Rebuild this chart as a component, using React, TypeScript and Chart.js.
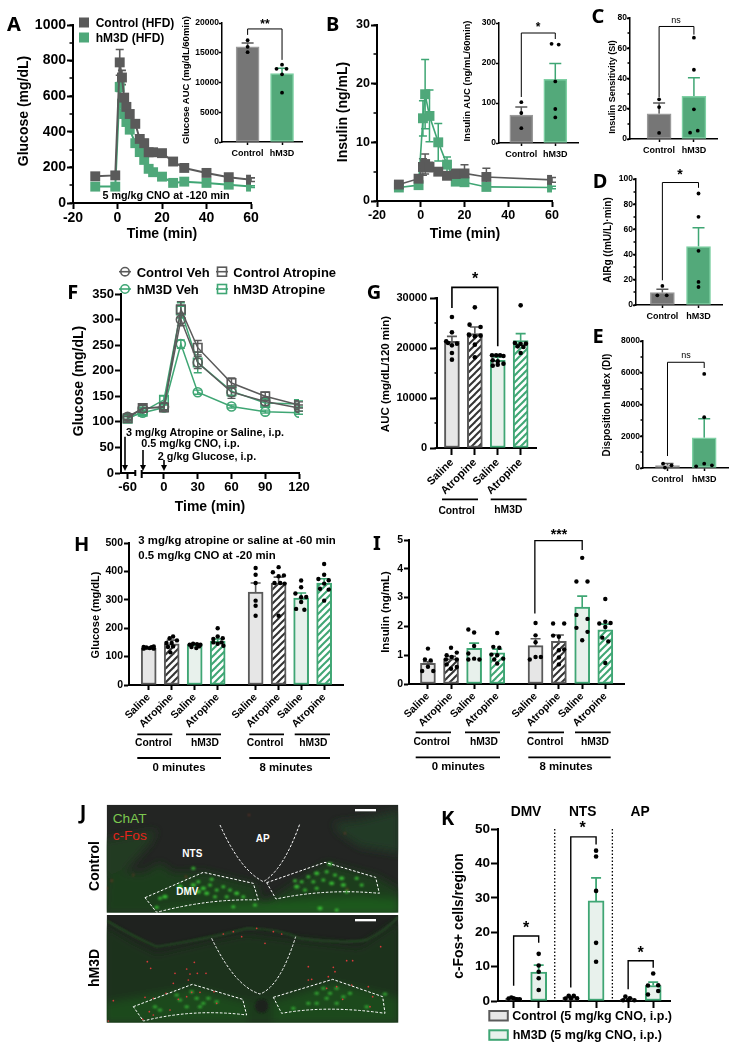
import React, { useEffect, useRef } from 'react';
import { Chart, registerables } from 'chart.js';
Chart.register(...registerables);

const SANS = '"Liberation Sans", Arial, sans-serif';
const GREY = '#5a5a5a';
const GREEN = '#3fa674';
const DARKBAR = '#767676';
const DARKEDGE = '#9a9a9a';
const GREENBAR = '#53a97a';
const GREENEDGE = '#7fd0a4';
const LIGHTGREY = '#e6e6e6';
const LIGHTGREEN = '#e8f1ec';

// ---------- A ----------
const aTimes = [-10, -1, 1, 2, 3, 4, 5.5, 8, 10, 12, 14, 16, 20, 25, 30, 40, 50, 60];
const aControl = [150, 155, 790, 705, 592, 540, 500, 445, 360, 336, 285, 285, 280, 233, 197, 169, 145, 131];
const aControlSem = [20, 20, 72, 40, 20, 15, 15, 20, 20, 20, 20, 15, 15, 15, 15, 15, 15, 10];
const aHm3d = [92, 92, 652, 558, 500, 455, 412, 336, 286, 242, 192, 173, 148, 113, 120, 113, 103, 92];
const aHm3dSem = [10, 10, 25, 30, 20, 15, 15, 15, 15, 15, 15, 10, 10, 8, 8, 8, 8, 5];
const groupLabels = ['Control', 'hM3D'];
const aAuc = [16000, 11480];
const aAucSem = [650, 900];
const aDotX = [0, 0, 0, 1, 0.84, 1.13, 1, 1];
const aDotY = [17100, 16000, 15100, 13000, 12300, 12300, 11370, 8290];

// ---------- B ----------
const bTimes = [-10, -1, 1, 2, 4, 8, 12, 16, 20, 30, 60];
const bControl = [2.8, 3.8, 5.8, 6.3, 5.8, 5, 4.3, 4.6, 4.7, 4.1, 3.6];
const bControlSem = [0.4, 0.5, 1.4, 1.7, 0.8, 0.6, 0.5, 0.8, 1.5, 1.5, 0.4];
const bHm3d = [2.3, 2.7, 14.1, 18.2, 14.5, 10, 6.2, 3.3, 3.2, 2.4, 2.3];
const bHm3dSem = [0.2, 0.3, 3, 5.9, 4.4, 3.2, 1.3, 0.3, 0.3, 0.2, 0.2];
const bAuc = [70, 159];
const bAucSem = [20, 40];
const bDotX = [0, 0, 0, 0.89, 1.1, 1, 1, 1];
const bDotY = [102, 75, 37, 248, 246, 154, 85, 64];

// ---------- C D E ----------
const cValues = [16.7, 28.2];
const cSem = [7.1, 12.3];
const cDotX = [0, 0, 0, 1, 1, 1, 0.89, 1.11];
const cDotY = [26.2, 21.1, 4, 67, 45.8, 19.6, 4.2, 5.5];
const dValues = [9.8, 46.4];
const dSem = [2.7, 15];
const dDotX = [0, -0.14, 0.12, 1, 1, 1, 1, 1];
const dDotY = [15.1, 7.7, 7.7, 88.5, 70, 43, 18.3, 14.3];
const eValues = [157, 1905];
const eSem = [133, 1195];
const eDotX = [-0.12, 0.11, -0.07, 1, 1, 1, 0.78, 1.21];
const eDotY = [272, 170, 26, 5926, 3200, 272, 105, 167];

// ---------- F ----------
const fAxisPositions = [-32.3, -18.9, 0, 15, 30, 60, 90, 120];
const fTickPositions = [-32.3, 0, 30, 60, 90, 120];
const fTickLabels = ['-60', '0', '30', '60', '90', '120'];
const fControlVeh = [110, 126, 130, 300, 216, 158, 140, 127];
const fControlVehSem = [5, 6, 6, 12, 12, 12, 8, 6];
const fControlAtr = [107, 127, 128, 320, 245, 176, 150, 133];
const fControlAtrSem = [4, 6, 8, 15, 14, 10, 8, 6];
const fHm3dVeh = [108, 118, 128, 252, 158, 130, 120, 118];
const fHm3dVehSem = [4, 4, 5, 8, 4, 3, 3, 3];
const fHm3dAtr = [106, 120, 143, 318, 216, 160, 137, 135];
const fHm3dAtrSem = [4, 6, 8, 15, 20, 10, 6, 6];

// ---------- G ----------
const treatLabels = ['Saline', 'Atropine', 'Saline', 'Atropine'];
const gValues = [21333, 22870, 17530, 21470];
const gSem = [1000, 1330, 670, 1400];
const gDotX = [0, 0, -0.25, 0.22, 0, 0, 0, -0.17, 1, 0.77, 1.25, 0.74, 1.25, 1, 1, 1, 1.75, 1.93, 2.1, 2.25, 1.78, 2, 2.25, 1.78, 2, 3, 2.75, 3, 3.23, 2.87, 3.12, 3];
const gDotY = [26200, 23130, 21330, 20870, 20530, 19000, 17670, 21000, 28130, 24670, 24200, 22670, 22470, 22330, 20670, 18130, 18530, 18530, 18530, 18400, 17530, 17330, 16870, 16470, 16670, 28530, 21000, 20800, 20870, 20330, 20200, 19000];

// ---------- H ----------
const hPositions = [0, 1, 2, 3, 4.65, 5.65, 6.63, 7.63];
const eightLabels = ['Saline', 'Atropine', 'Saline', 'Atropine', 'Saline', 'Atropine', 'Saline', 'Atropine'];
const hValues = [130, 145, 142, 154, 327, 359, 306, 359];
const hSem = [2, 13, 3, 8, 32, 21, 18, 15];
const hDotX = [-0.22, -0.1, 0.04, 0.22, -0.22, 0.12, 0.22, 1.06, 0.91, 0.77, 1.23, 1, 0.84, 1.06, 0.94, 1.78, 1.93, 2.1, 2.25, 1.86, 2.07, 2.19, 3, 3, 2.81, 3.22, 2.81, 3, 3.17, 3.25, 4.65, 4.65, 4.65, 4.65, 4.65, 4.65, 5.65, 5.4, 5.65, 5.88, 5.47, 5.72, 5.91, 5.65, 6.63, 6.63, 6.38, 6.63, 6.85, 6.63, 6.41, 6.77, 7.63, 7.63, 7.38, 7.83, 7.63, 7.45, 7.83, 7.63];
const hDotY = [134, 132, 130, 136, 128, 133, 128, 171, 165, 148, 157, 148, 134, 136, 115, 142, 145, 144, 142, 134, 130, 136, 200, 171, 162, 165, 150, 145, 150, 138, 412, 388, 359, 297, 279, 244, 415, 397, 383, 386, 359, 359, 357, 244, 368, 344, 322, 309, 310, 292, 268, 265, 426, 388, 373, 369, 357, 339, 336, 297];

// ---------- I ----------
const iPositions = [0, 1, 2, 3, 4.66, 5.67, 6.68, 7.68];
const iValues = [0.72, 0.88, 1.24, 1.08, 1.33, 1.48, 2.67, 1.88];
const iSem = [0.05, 0.08, 0.18, 0.13, 0.24, 0.22, 0.38, 0.2];
const iDotX = [0, -0.13, 0.12, 0, -0.25, 0.23, 1, 1.25, 0.81, 1.03, 0.78, 1.25, 0.81, 1, 1.25, 1.75, 2, 2, 1.75, 1.75, 2, 2.23, 3, 2.83, 3.09, 2.75, 3, 3.26, 2.87, 3, 4.66, 4.66, 4.66, 4.41, 4.66, 4.89, 5.42, 5.9, 5.42, 5.67, 5.67, 5.9, 5.67, 5.67, 6.68, 6.43, 6.91, 6.43, 6.91, 6.43, 6.91, 6.68, 7.68, 7.42, 7.68, 7.91, 7.68, 7.55, 7.81, 7.68];
const iDotY = [1.23, 0.85, 0.82, 0.6, 0.45, 0.45, 1.26, 1.09, 1.0, 0.94, 0.85, 0.85, 0.68, 0.53, 0.59, 1.89, 1.79, 1.32, 1.06, 0.85, 0.88, 0.85, 1.77, 1.29, 1.26, 1.02, 1.0, 0.88, 0.85, 0.71, 2.12, 1.69, 1.45, 0.85, 0.94, 0.94, 2.1, 2.1, 1.68, 1.64, 1.17, 1.2, 0.92, 0.68, 4.38, 3.56, 3.56, 2.4, 2.26, 1.95, 1.81, 1.52, 2.95, 2.1, 2.16, 2.12, 1.98, 1.61, 1.48, 0.73];

// ---------- K ----------
const kPositions = [0, 1, 2.28, 3.29, 4.57, 5.57];
const kValues = [0.8, 8.4, 1.1, 29.1, 0.5, 4.5];
const kSem = [0.1, 2, 0.2, 6.7, 0.2, 1];
const kDotX = [-0.2, -0.09, 0, 0.11, 0.24, 1, 1, 1, 1, 1, 2.07, 2.2, 2.4, 2.53, 2.29, 3.29, 3.29, 3.29, 3.29, 3.29, 4.37, 4.46, 4.64, 4.82, 4.57, 5.57, 5.36, 5.77, 5.36, 5.77];
const kDotY = [0.7, 1, 0.8, 0.5, 0.5, 13.7, 10.3, 8.5, 6.6, 3.2, 0.7, 1.5, 1.5, 0.8, 0.8, 43.7, 42, 32, 16.9, 11.4, 0.2, 1.3, 0.8, 0.2, 0.2, 8, 4.5, 4.6, 1.9, 2.9];

type Plot = { l: number; t: number; r: number; b: number };
type Bracket = { x1: number; x2: number; top: number; y1: number; y2: number };
type Err = { xs: number[]; ys: number[]; sems: number[]; colors: string | string[]; cap: number; both: boolean; width: number };
type Spec = {
  errors?: Err[];
  brackets?: Bracket[];
  bracketWidth?: number;
  minor?: number;
  minorLen?: number;
  dotted?: number[];
  axisBreak?: [number, number];
};

function marksPlugin(spec: Spec) {
  return {
    id: 'marks',
    beforeDatasetsDraw(chart: any) {
      const { ctx, scales } = chart;
      const { x, y } = scales;
      ctx.save();
      (spec.errors || []).forEach((e) => {
        ctx.lineWidth = e.width;
        e.xs.forEach((xv, i) => {
          ctx.strokeStyle = Array.isArray(e.colors) ? e.colors[i] : e.colors;
          const px = x.getPixelForValue(xv);
          const hi = y.getPixelForValue(e.ys[i] + e.sems[i]);
          const lo = e.both ? y.getPixelForValue(e.ys[i] - e.sems[i]) : y.getPixelForValue(e.ys[i]);
          ctx.beginPath();
          ctx.moveTo(px, lo);
          ctx.lineTo(px, hi);
          ctx.moveTo(px - e.cap, hi);
          ctx.lineTo(px + e.cap, hi);
          if (e.both) {
            ctx.moveTo(px - e.cap, lo);
            ctx.lineTo(px + e.cap, lo);
          }
          ctx.stroke();
        });
      });
      ctx.restore();
    },
    afterDraw(chart: any) {
      const { ctx, scales, chartArea } = chart;
      const { x, y } = scales;
      ctx.save();
      ctx.strokeStyle = '#000';
      if (spec.minor) {
        ctx.lineWidth = 1.5;
        const n = Math.round((y.max - y.min) / spec.minor);
        for (let i = 0; i <= n; i++) {
          const py = Math.round(y.getPixelForValue(y.min + i * spec.minor));
          ctx.beginPath();
          ctx.moveTo(chartArea.left, py);
          ctx.lineTo(chartArea.left - (spec.minorLen || 3), py);
          ctx.stroke();
        }
      }
      (spec.dotted || []).forEach((v) => {
        const px = x.getPixelForValue(v);
        ctx.setLineDash([1.5, 2]);
        ctx.lineWidth = 1.3;
        ctx.beginPath();
        ctx.moveTo(px, chartArea.top);
        ctx.lineTo(px, chartArea.bottom);
        ctx.stroke();
        ctx.setLineDash([]);
      });
      ctx.lineWidth = spec.bracketWidth || 1;
      (spec.brackets || []).forEach((b) => {
        const xa = x.getPixelForValue(b.x1);
        const xb = x.getPixelForValue(b.x2);
        ctx.beginPath();
        ctx.moveTo(xa, y.getPixelForValue(b.y1));
        ctx.lineTo(xa, y.getPixelForValue(b.top));
        ctx.lineTo(xb, y.getPixelForValue(b.top));
        ctx.lineTo(xb, y.getPixelForValue(b.y2));
        ctx.stroke();
      });
      if (spec.axisBreak) {
        const a = x.getPixelForValue(spec.axisBreak[0]);
        const b = x.getPixelForValue(spec.axisBreak[1]);
        const by = chartArea.bottom;
        ctx.clearRect(a, by - 3, b - a, 6);
        ctx.lineWidth = 2;
        ctx.beginPath();
        ctx.moveTo(a, by - 3);
        ctx.lineTo(a, by + 3);
        ctx.moveTo(b, by - 3);
        ctx.lineTo(b, by + 5);
        ctx.stroke();
      }
      ctx.restore();
    },
  };
}

function hatch(color: string) {
  const c = document.createElement('canvas');
  c.width = 7;
  c.height = 7;
  const g = c.getContext('2d') as CanvasRenderingContext2D;
  g.fillStyle = '#fff';
  g.fillRect(0, 0, 7, 7);
  g.strokeStyle = color;
  g.lineWidth = 2;
  [[0, 7, 7, 0], [-3.5, 3.5, 3.5, -3.5], [3.5, 10.5, 10.5, 3.5]].forEach((p) => {
    g.beginPath();
    g.moveTo(p[0], p[1]);
    g.lineTo(p[2], p[3]);
    g.stroke();
  });
  return g.createPattern(c, 'repeat');
}

const MARGIN = { l: 60, t: 44, r: 30, b: 30 };

function axes(o: {
  plot: Plot; xMin: number; xMax: number; xTicks?: number[]; xLabel?: (v: number) => string; xStep?: number;
  yMax: number; yStep: number; fontX: number; fontY: number; tick?: number; rotate?: boolean; bottom?: number; lw?: number; padY?: number; padX?: number;
}) {
  const lw = o.lw || 2;
  const grid = { drawOnChartArea: false, drawTicks: true, tickLength: o.tick || 5, tickColor: '#000', tickWidth: lw, offset: false };
  return {
    x: {
      type: 'linear', min: o.xMin, max: o.xMax, offset: false,
      grid, border: { color: '#000', width: lw },
      afterFit: (s: any) => { s.height = o.bottom || MARGIN.b; },
      afterBuildTicks: o.xTicks ? (s: any) => { s.ticks = (o.xTicks as number[]).map((value) => ({ value })); } : undefined,
      ticks: {
        autoSkip: false, color: '#000', padding: o.padX ?? 1, stepSize: o.xStep,
        font: { family: SANS, weight: 'bold', size: o.fontX },
        minRotation: o.rotate ? 45 : 0, maxRotation: o.rotate ? 45 : 0,
        callback: o.xLabel ? (v: number) => (o.xLabel as any)(v) : (v: number) => String(v),
      },
    },
    y: {
      type: 'linear', min: 0, max: o.yMax,
      grid, border: { color: '#000', width: lw },
      afterFit: (s: any) => { s.width = MARGIN.l; },
      ticks: {
        autoSkip: false, color: '#000', padding: o.padY ?? 1, stepSize: o.yStep,
        font: { family: SANS, weight: 'bold', size: o.fontY },
        callback: (v: number) => String(v),
      },
    },
  };
}

const baseOptions = (scales: any) => ({
  responsive: false, animation: false, devicePixelRatio: 1, events: [],
  layout: { padding: { left: 0, top: MARGIN.t, right: MARGIN.r, bottom: 0 } },
  plugins: { legend: { display: false }, tooltip: { enabled: false } },
  scales,
});

function linePanel(o: {
  plot: Plot; xMin: number; xMax: number; xStep?: number; xTicks?: number[]; xLabel?: (v: number) => string;
  yMax: number; yStep: number; font: number; minor?: number; axisBreak?: [number, number];
  series: { name: string; xs: number[]; ys: number[]; sem: number[]; color: string; style: string; r: number; fill: string; lw: number; pw: number; cap: number; errW: number }[];
}) {
  return {
    plot: o.plot, bottom: MARGIN.b,
    build: () => ({
      type: 'line',
      data: {
        datasets: o.series.map((s, i) => ({
          label: s.name,
          data: s.xs.map((x, k) => ({ x, y: s.ys[k] })),
          borderColor: s.color, borderWidth: s.lw, tension: 0, fill: false,
          pointStyle: s.style, pointRadius: s.r, pointBackgroundColor: s.fill, pointBorderColor: s.color, pointBorderWidth: s.pw,
          order: i,
        })),
      },
      options: baseOptions(axes({ plot: o.plot, xMin: o.xMin, xMax: o.xMax, xStep: o.xStep, xTicks: o.xTicks, xLabel: o.xLabel, yMax: o.yMax, yStep: o.yStep, fontX: o.font, fontY: o.font, tick: 6 })),
      plugins: [marksPlugin({
        minor: o.minor, minorLen: 3.5, axisBreak: o.axisBreak,
        errors: o.series.map((s) => ({ xs: s.xs, ys: s.ys, sems: s.sem, colors: s.color, cap: s.cap, both: true, width: s.errW })).reverse(),
      })],
    }),
  };
}

function barPanel(o: {
  plot: Plot; xMin: number; xMax: number; positions: number[]; labels: string[]; yMax: number; yStep: number;
  values: number[]; sem: number[]; fills: () => any[]; edges: string[]; errColors: string[]; edgeW: number;
  dotX: number[]; dotY: number[]; barW: number; dotR: number; fontX: number; fontY: number; rotate?: boolean; bottom?: number;
  minor?: number; brackets?: Bracket[]; bracketW?: number; cap: number; errW: number; tick?: number; lw?: number; dotted?: number[]; padY?: number; padX?: number;
}) {
  return {
    plot: o.plot, bottom: o.bottom || MARGIN.b,
    build: () => ({
      type: 'bar',
      data: {
        datasets: [
          {
            type: 'scatter', label: 'Individual animals',
            data: o.dotX.map((x, i) => ({ x, y: o.dotY[i] })),
            pointRadius: o.dotR, pointBackgroundColor: '#000', pointBorderWidth: 0, order: 1, clip: false,
          },
          {
            type: 'bar', label: 'Mean',
            data: o.positions.map((x, i) => ({ x, y: o.values[i] })),
            backgroundColor: o.fills(), borderColor: o.edges, borderWidth: o.edgeW, borderSkipped: false,
            barThickness: o.barW, grouped: false, order: 2,
          },
        ],
      },
      options: baseOptions(axes({
        plot: o.plot, xMin: o.xMin, xMax: o.xMax, xTicks: o.positions,
        xLabel: (v: number) => o.labels[o.positions.indexOf(v)] ?? '',
        yMax: o.yMax, yStep: o.yStep, fontX: o.fontX, fontY: o.fontY, rotate: o.rotate, bottom: o.bottom, tick: o.tick, lw: o.lw, padY: o.padY, padX: o.padX,
      })),
      plugins: [marksPlugin({
        minor: o.minor, minorLen: 2.5, brackets: o.brackets, bracketWidth: o.bracketW, dotted: o.dotted,
        errors: [{ xs: o.positions, ys: o.values, sems: o.sem, colors: o.errColors, cap: o.cap, both: false, width: o.errW }],
      })],
    }),
  };
}

const solidFills = () => [DARKBAR, GREENBAR];
const solidEdges = [DARKEDGE, GREENEDGE];
const solidErr = [GREY, GREEN];
const quadFills = () => [LIGHTGREY, hatch('#333'), LIGHTGREEN, hatch(GREEN)];
const quadEdges = [GREY, GREY, GREEN, GREEN];
const smallAxis = { fontX: 9, fontY: 8.5, tick: 3, lw: 1.5, padY: 0, padX: 3, cap: 6, errW: 1.5, bracketW: 1, edgeW: 1.5, dotR: 1.9 };

const PANELS = [
  linePanel({
    plot: { l: 73, t: 25, r: 250.7, b: 202.5 }, xMin: -20, xMax: 60, xStep: 20, yMax: 1000, yStep: 200, font: 14, minor: 100,
    series: [
      { name: 'Control (HFD)', xs: aTimes, ys: aControl, sem: aControlSem, color: GREY, style: 'rect', r: 7, fill: GREY, lw: 2, pw: 0, cap: 4, errW: 1.6 },
      { name: 'hM3D (HFD)', xs: aTimes, ys: aHm3d, sem: aHm3dSem, color: GREEN, style: 'rect', r: 7, fill: '#4fa87a', lw: 2, pw: 0, cap: 4, errW: 1.6 },
    ],
  }),
  barPanel({
    ...smallAxis,
    plot: { l: 221.7, t: 22.7, r: 301.7, b: 141.7 }, xMin: -0.744, xMax: 1.58, positions: [0, 1], labels: groupLabels, yMax: 20000, yStep: 5000,
    values: aAuc, sem: aAucSem, fills: solidFills, edges: solidEdges, errColors: solidErr, dotX: aDotX, dotY: aDotY, barW: 23,
    brackets: [{ x1: 0, x2: 1, top: 19000, y1: 18000, y2: 13800 }],
  }),
  linePanel({
    plot: { l: 377.3, t: 25, r: 552.7, b: 201 }, xMin: -20, xMax: 60, xStep: 20, yMax: 30, yStep: 10, font: 12.5, minor: 5,
    series: [
      { name: 'Control (HFD)', xs: bTimes, ys: bControl, sem: bControlSem, color: GREY, style: 'rect', r: 7, fill: GREY, lw: 1.6, pw: 0, cap: 4, errW: 1.5 },
      { name: 'hM3D (HFD)', xs: bTimes, ys: bHm3d, sem: bHm3dSem, color: GREEN, style: 'rect', r: 7, fill: '#4fa87a', lw: 1.6, pw: 0, cap: 4, errW: 1.5 },
    ],
  }),
  barPanel({
    ...smallAxis,
    plot: { l: 499, t: 22.7, r: 578, b: 142.3 }, xMin: -0.656, xMax: 1.668, positions: [0, 1], labels: groupLabels, yMax: 300, yStep: 100,
    values: bAuc, sem: bAucSem, fills: solidFills, edges: solidEdges, errColors: solidErr, dotX: bDotX, dotY: bDotY, barW: 23,
    brackets: [{ x1: 0, x2: 1, top: 275, y1: 115, y2: 260 }],
  }),
  barPanel({
    ...smallAxis,
    plot: { l: 630, t: 17.7, r: 716.7, b: 138.7 }, xMin: -0.836, xMax: 1.663, positions: [0, 1], labels: groupLabels, yMax: 80, yStep: 20, minor: 10,
    values: cValues, sem: cSem, fills: solidFills, edges: solidEdges, errColors: solidErr, dotX: cDotX, dotY: cDotY, barW: 24,
    brackets: [{ x1: 0, x2: 1, top: 74.4, y1: 27.7, y2: 69 }],
  }),
  barPanel({
    ...smallAxis,
    plot: { l: 636, t: 178.5, r: 721.7, b: 304 }, xMin: -0.73, xMax: 1.65, positions: [0, 1], labels: groupLabels, yMax: 100, yStep: 20, minor: 10,
    values: dValues, sem: dSem, fills: solidFills, edges: solidEdges, errColors: solidErr, dotX: dDotX, dotY: dDotY, barW: 24,
    brackets: [{ x1: 0, x2: 1, top: 97.2, y1: 19.6, y2: 93 }],
  }),
  barPanel({
    ...smallAxis,
    plot: { l: 643.3, t: 341.3, r: 728, b: 468.7 }, xMin: -0.667, xMax: 1.648, positions: [0, 1], labels: groupLabels, yMax: 8000, yStep: 2000, minor: 1000,
    values: eValues, sem: eSem, fills: solidFills, edges: solidEdges, errColors: solidErr, dotX: eDotX, dotY: eDotY, barW: 24,
    brackets: [{ x1: 0, x2: 1, top: 6660, y1: 754, y2: 6300 }],
  }),
  linePanel({
    plot: { l: 121, t: 294.3, r: 299, b: 473.3 }, xMin: -38.2, xMax: 120, xTicks: fTickPositions,
    xLabel: (v: number) => fTickLabels[fTickPositions.indexOf(v)] ?? '',
    yMax: 350, yStep: 50, font: 13, axisBreak: [-25.5, -19.8],
    series: [
      { name: 'Control Veh', xs: fAxisPositions, ys: fControlVeh, sem: fControlVehSem, color: GREY, style: 'circle', r: 4.5, fill: 'transparent', lw: 1.5, pw: 1.6, cap: 4, errW: 1.4 },
      { name: 'Control Atropine', xs: fAxisPositions, ys: fControlAtr, sem: fControlAtrSem, color: GREY, style: 'rect', r: 6, fill: 'transparent', lw: 1.5, pw: 1.6, cap: 4, errW: 1.4 },
      { name: 'hM3D Veh', xs: fAxisPositions, ys: fHm3dVeh, sem: fHm3dVehSem, color: GREEN, style: 'circle', r: 4.5, fill: 'transparent', lw: 1.5, pw: 1.6, cap: 4, errW: 1.4 },
      { name: 'hM3D Atropine', xs: fAxisPositions, ys: fHm3dAtr, sem: fHm3dAtrSem, color: GREEN, style: 'rect', r: 6, fill: 'transparent', lw: 1.5, pw: 1.6, cap: 4, errW: 1.4 },
    ],
  }),
  barPanel({
    plot: { l: 437.3, t: 298.3, r: 536.7, b: 448.3 }, xMin: -0.652, xMax: 3.67, positions: [0, 1, 2, 3], labels: treatLabels, yMax: 30000, yStep: 10000, minor: 5000,
    values: gValues, sem: gSem, fills: quadFills, edges: quadEdges, errColors: quadEdges, edgeW: 2, dotX: gDotX, dotY: gDotY, barW: 15, dotR: 2.3,
    fontX: 11, fontY: 11, rotate: true, bottom: 60, tick: 7, padY: 3, cap: 5, errW: 1.6, bracketW: 1.6,
    brackets: [{ x1: 0, x2: 2, top: 32130, y1: 28000, y2: 20330 }],
  }),
  barPanel({
    plot: { l: 129.3, t: 543.3, r: 343.3, b: 685.3 }, xMin: -0.857, xMax: 8.45, positions: hPositions, labels: eightLabels, yMax: 500, yStep: 100,
    values: hValues, sem: hSem, fills: () => [...quadFills(), ...quadFills()], edges: [...quadEdges, ...quadEdges], errColors: [...quadEdges, ...quadEdges], edgeW: 2,
    dotX: hDotX, dotY: hDotY, barW: 15, dotR: 2.2, fontX: 10.5, fontY: 10.5, rotate: true, bottom: 60, tick: 5, cap: 5, errW: 1.6,
  }),
  barPanel({
    plot: { l: 409, t: 540, r: 624, b: 683.7 }, xMin: -0.82, xMax: 8.49, positions: iPositions, labels: eightLabels, yMax: 5, yStep: 1,
    values: iValues, sem: iSem, fills: () => [...quadFills(), ...quadFills()], edges: [...quadEdges, ...quadEdges], errColors: [...quadEdges, ...quadEdges], edgeW: 2,
    dotX: iDotX, dotY: iDotY, barW: 15, dotR: 2.2, fontX: 10.5, fontY: 10.5, rotate: true, bottom: 60, tick: 5, cap: 5, errW: 1.6, bracketW: 1.3,
    brackets: [{ x1: 4.63, x2: 6.68, top: 4.98, y1: 2.45, y2: 4.65 }],
  }),
  barPanel({
    plot: { l: 497.7, t: 829.3, r: 669.3, b: 1001.7 }, xMin: -0.624, xMax: 6.24, positions: kPositions, labels: ['', '', '', '', '', ''], yMax: 50, yStep: 10,
    values: kValues, sem: kSem, fills: () => [LIGHTGREY, LIGHTGREEN, LIGHTGREY, LIGHTGREEN, LIGHTGREY, LIGHTGREEN],
    edges: [GREY, GREEN, GREY, GREEN, GREY, GREEN], errColors: [GREY, GREEN, GREY, GREEN, GREY, GREEN], edgeW: 2,
    dotX: kDotX, dotY: kDotY, barW: 16, dotR: 2.3, fontX: 13, fontY: 13.5, tick: 7, cap: 5, errW: 1.8, bracketW: 1.4, dotted: [1.64, 3.94],
    brackets: [
      { x1: 0, x2: 1, top: 18.9, y1: 4.4, y2: 16.9 },
      { x1: 2.28, x2: 3.29, top: 47.7, y1: 3.9, y2: 45.5 },
      { x1: 4.57, x2: 5.57, top: 11.7, y1: 3.4, y2: 9.7 },
    ],
  }),
];

function ChartCanvas({ panel }: { panel: any }) {
  const ref = useRef<HTMLCanvasElement | null>(null);
  const { plot, bottom } = panel;
  const left = plot.l - MARGIN.l;
  const top = plot.t - MARGIN.t;
  const width = Math.round(plot.r - plot.l + MARGIN.l + MARGIN.r);
  const height = Math.round(plot.b - plot.t + MARGIN.t + bottom);
  useEffect(() => {
    const chart = new Chart(ref.current as HTMLCanvasElement, panel.build());
    return () => chart.destroy();
  }, [panel]);
  return <canvas ref={ref} width={width} height={height} style={{ position: 'absolute', left, top, width, height }} />;
}

// text: [string, centre x, centre y, size, rotated?, family?]
type Note = [string, number, number, number, boolean?, string?];
const LETTER = '"Noto Sans", sans-serif';
const NOTES: Note[] = [
  ['A', 14, 24, 20, false, LETTER], ['B', 332.7, 24, 20, false, LETTER], ['C', 598, 16, 20, false, LETTER],
  ['D', 600, 181, 20, false, LETTER], ['E', 598, 335.7, 20, false, LETTER], ['F', 72.7, 291.7, 20, false, LETTER],
  ['G', 374, 291.7, 20, false, LETTER], ['H', 81.7, 544, 20, false, LETTER], ['I', 377, 543, 20, false, LETTER],
  ['J', 83, 811.7, 20, false, LETTER], ['K', 447.7, 818, 20, false, LETTER],
  ['Glucose (mg/dL)', 23.3, 110.7, 14, true], ['Time (min)', 162, 233, 14],
  ['5 mg/kg CNO at -120 min', 166, 195, 10.8],
  ['Glucose AUC (mg/dL/60min)', 186, 80, 9.5, true], ['**', 265, 24, 12],
  ['Insulin (ng/mL)', 341.7, 111.7, 14, true], ['Time (min)', 465, 233, 14],
  ['Insulin AUC (ng/mL/60min)', 466.7, 81, 9.5, true], ['*', 538, 27, 12],
  ['Insulin Sensitivity (SI)', 611.7, 87, 9, true], ['ns', 676, 20, 9],
  ['AIRg ((mU/L)·min)', 608.3, 240, 10, true], ['*', 680, 174, 14],
  ['Disposition Index (DI)', 607.3, 405, 10, true], ['ns', 686, 355, 9],
  ['Glucose (mg/dL)', 78.3, 380.7, 14, true], ['Time (min)', 210, 505.7, 14],
  ['3 mg/kg Atropine or Saline, i.p.', 205, 431.7, 10.8], ['0.5 mg/kg CNO, i.p.', 190.5, 443.3, 10.8], ['2 g/kg Glucose, i.p.', 207, 455.7, 10.8],
  ['AUC (mg/dL/120 min)', 385.7, 373.7, 11.5, true], ['*', 475, 279, 16],
  ['Control', 456.7, 511, 10.3], ['hM3D', 508.3, 510, 10.3],
  ['Glucose (mg/dL)', 95, 614.7, 11, true],
  ['Control', 153.3, 742.7, 10.3], ['hM3D', 205, 742.7, 10.3], ['Control', 265, 742.7, 10.3], ['hM3D', 313.3, 742.7, 10.3],
  ['0 minutes', 179, 767.7, 11.4], ['8 minutes', 286, 767.7, 11.4],
  ['Insulin (ng/mL)', 385.7, 612.3, 11.4, true], ['***', 559, 534, 14],
  ['Control', 431.7, 742.3, 10.3], ['hM3D', 484, 742.3, 10.3], ['Control', 545, 742.3, 10.3], ['hM3D', 595, 742.3, 10.3],
  ['0 minutes', 458.3, 767, 11.4], ['8 minutes', 566, 767, 11.4],
  ['c-Fos+ cells/region', 459.3, 915.7, 13.8, true],
  ['DMV', 526, 812.3, 13.8], ['NTS', 582.7, 812.3, 13.8], ['AP', 640, 812.3, 13.8],
  ['*', 526, 928, 16], ['*', 582.7, 828, 16], ['*', 640.7, 953, 16],
  ['Control', 94.3, 866, 14, true], ['hM3D', 94.3, 967.7, 14, true],
];
// left-aligned text: [string, left x, centre y, size]
const LEFT_NOTES: [string, number, number, number][] = [
  ['Control (HFD)', 95.7, 22.7, 12], ['hM3D (HFD)', 95.7, 37.7, 12],
  ['Control Veh', 136.7, 271.7, 13], ['Control Atropine', 233.3, 271.7, 13], ['hM3D Veh', 136.7, 289, 13], ['hM3D Atropine', 233.3, 289, 13],
  ['3 mg/kg atropine or saline at -60 min', 138.3, 541, 11.4], ['0.5 mg/kg CNO at -20 min', 138.3, 555.7, 11.4],
  ['Control (5 mg/kg CNO, i.p.)', 512.3, 1016, 12.5], ['hM3D (5 mg/kg CNO, i.p.)', 512.7, 1035.3, 12.5],
];
// group rules: [x1, x2, y]
const RULES: [number, number, number][] = [
  [442, 478, 499.3], [490.7, 526.7, 499.3],
  [137.3, 172.3, 734.3], [186, 221, 734.3], [249.3, 284, 734.3], [294.7, 330, 734.3], [137.3, 221, 758], [249.3, 330, 758],
  [415.7, 451, 732.3], [465, 500, 732.3], [528.3, 564, 732.3], [575, 610.7, 732.3], [415.7, 500, 757.3], [528.3, 610.7, 757.3],
];
// arrows: [x, y start, y tip]
const ARROWS: [number, number, number][] = [[125, 436.7, 471], [143, 450, 471], [164, 460, 471]];

// microscope picture, in a 1140x780 drawing space
const PIC_GREEN_TOP = [[315, 320], [300, 325], [290, 352], [400, 285], [415, 275], [385, 300], [430, 295], [450, 285], [470, 300], [440, 310], [490, 290], [510, 300], [415, 305], [465, 320], [500, 320], [530, 310], [400, 235], [455, 268], [360, 290], [520, 350], [550, 320],
  [710, 290], [725, 275], [745, 260], [770, 250], [800, 245], [825, 255], [845, 265], [760, 275], [790, 270], [815, 280], [735, 300], [770, 295], [850, 285], [890, 265], [905, 285], [810, 222], [705, 272], [830, 360], [780, 355], [585, 345], [860, 305]];
const PIC_GREEN_BOTTOM = [[285, 650], [300, 660], [350, 615], [360, 630], [395, 605], [410, 625], [430, 640], [445, 625], [470, 635], [420, 650], [380, 650],
  [745, 640], [770, 610], [790, 595], [810, 610], [830, 595], [800, 625], [850, 620], [870, 610], [920, 650], [770, 640], [830, 640], [975, 612], [700, 655]];
const PIC_RED_BOTTOM = [[272, 535], [262, 515], [345, 550], [380, 537], [403, 517], [390, 552], [412, 550], [438, 550], [340, 580], [385, 570], [318, 610], [280, 625], [255, 622], [160, 632], [268, 665], [280, 675], [248, 688], [330, 660], [355, 628], [380, 620], [395, 607], [420, 607], [462, 605], [470, 640],
  [745, 530], [820, 532], [860, 512], [878, 512], [745, 570], [755, 568], [805, 560], [825, 545], [800, 595], [830, 590], [848, 628], [875, 585], [925, 590], [938, 620], [930, 650], [962, 470], [490, 432], [545, 440], [590, 415], [640, 425], [665, 432], [520, 425], [615, 460], [145, 693]];
const PIC_RED_TOP = [[155, 272], [378, 260], [855, 130], [140, 295], [862, 297], [220, 255], [567, 75]];

function Picture() {
  return (
    <svg viewBox="0 0 1140 780" width={380} height={260} style={{ position: 'absolute', left: 60, top: 790 }}>
      <defs>
        <filter id="b8" x="-20%" y="-20%" width="140%" height="140%"><feGaussianBlur stdDeviation="12" /></filter>
        <filter id="b2" x="-50%" y="-50%" width="200%" height="200%"><feGaussianBlur stdDeviation="2.5" /></filter>
        <clipPath id="ct"><rect x="140" y="44" width="875" height="324" /></clipPath>
        <clipPath id="cb"><rect x="140" y="375" width="875" height="323" /></clipPath>
      </defs>
      <g clipPath="url(#ct)">
        <rect x="140" y="44" width="875" height="324" fill="#232523" />
        <g filter="url(#b8)">
          <polygon points="140,240 250,250 300,220 340,250 430,245 590,285 600,335 640,325 800,220 950,260 1020,300 1020,375 130,375" fill="#1a3d1a" />
          <polygon points="130,150 290,120 270,160 200,240 130,260" fill="#233a22" />
          <polygon points="820,100 900,90 1020,60 1020,190 900,170 840,130" fill="#233a26" />
          <polygon points="300,362 600,340 900,322 1020,330 1020,375 300,375" fill="#1f5a1f" />
        </g>
        <g filter="url(#b2)">
          {PIC_GREEN_TOP.map((p, i) => <ellipse key={i} cx={p[0]} cy={p[1]} rx={i % 3 === 0 ? 8 : 6} ry={i % 3 === 0 ? 5.5 : 4.5} fill="#38c034" />)}
          {PIC_RED_TOP.map((p, i) => <circle key={i} cx={p[0]} cy={p[1]} r="2.5" fill="#b0392a" />)}
        </g>
        <path d="M480,105 Q540,240 610,275 Q670,240 720,100" fill="none" stroke="#fff" strokeWidth="3" strokeDasharray="8 5" />
        <path d="M255,323 L430,247 L580,280 L595,330 Q450,325 290,367 Z" fill="none" stroke="#fff" strokeWidth="3" strokeDasharray="8 5" />
        <path d="M620,278 L795,217 L947,262 L958,310 Q800,295 648,327 Z" fill="none" stroke="#fff" strokeWidth="3" strokeDasharray="8 5" />
        <rect x="885" y="57" width="63" height="7" fill="#fff" />
        <text x="158" y="100" fontFamily={SANS} fontSize="41" fill="#7cc84f">ChAT</text>
        <text x="158" y="150" fontFamily={SANS} fontSize="41" fill="#e4241c">c-Fos</text>
        <text x="397" y="202" fontFamily={SANS} fontWeight="bold" fontSize="30" fill="#fff" textAnchor="middle">NTS</text>
        <text x="608" y="157" fontFamily={SANS} fontWeight="bold" fontSize="30" fill="#fff" textAnchor="middle">AP</text>
        <text x="382" y="315" fontFamily={SANS} fontWeight="bold" fontSize="30" fill="#fff" textAnchor="middle">DMV</text>
      </g>
      <g clipPath="url(#cb)">
        <rect x="140" y="375" width="875" height="323" fill="#1f221f" />
        <g filter="url(#b8)">
          <polygon points="130,400 230,460 290,490 460,450 560,430 720,450 900,470 1020,390 1020,700 130,700" fill="#1c301c" />
          <polygon points="130,640 400,595 550,635 640,635 820,580 1020,625 1020,705 130,705" fill="#1d481d" />
          <polygon points="560,640 640,640 640,700 560,700" fill="#1a3a1a" />
        </g>
        <path d="M140,392 Q220,440 290,470 Q450,445 560,415 Q650,415 720,445 Q850,462 920,450 Q980,420 1015,380" fill="none" stroke="#285a26" strokeWidth="4" filter="url(#b2)" />
        <circle cx="605" cy="648" r="20" fill="#1c201c" filter="url(#b2)" />
        <g filter="url(#b2)">
          {PIC_GREEN_BOTTOM.map((p, i) => <ellipse key={i} cx={p[0]} cy={p[1]} rx="7" ry="4.5" fill="#32a832" />)}
        </g>
        {PIC_RED_BOTTOM.map((p, i) => <circle key={i} cx={p[0]} cy={p[1]} r="2.6" fill="#d93a3a" />)}
        <path d="M455,445 Q525,590 600,612 Q660,590 707,440" fill="none" stroke="#fff" strokeWidth="3" strokeDasharray="8 5" />
        <path d="M220,650 L397,583 L548,628 L560,675 Q400,655 250,693 Z" fill="none" stroke="#fff" strokeWidth="3" strokeDasharray="8 5" />
        <path d="M640,622 L818,568 L968,620 L975,670 Q800,645 665,670 Z" fill="none" stroke="#fff" strokeWidth="3" strokeDasharray="8 5" />
        <rect x="885" y="387" width="63" height="7" fill="#fff" />
      </g>
    </svg>
  );
}

function Overlay() {
  return (
    <svg viewBox="0 0 737 1050" width={737} height={1050} style={{ position: 'absolute', left: 0, top: 0, pointerEvents: 'none' }}>
      <rect x="79" y="17.5" width="10" height="10" fill={GREY} />
      <rect x="79" y="32.5" width="10" height="10" fill="#4fa87a" />
      {[[125, 271.7, GREY, 'c'], [222, 271.7, GREY, 's'], [125, 289, GREEN, 'c'], [222, 289, GREEN, 's']].map((m: any, i) => (
        <g key={i} fill="none" stroke={m[2]} strokeWidth="1.6">
          <line x1={m[0] - 6} x2={m[0] + 6} y1={m[1]} y2={m[1]} />
          {m[3] === 'c' ? <circle cx={m[0]} cy={m[1]} r="4.2" /> : <rect x={m[0] - 4.5} y={m[1] - 4.5} width="9" height="9" />}
        </g>
      ))}
      {ARROWS.map((a, i) => (
        <g key={i}>
          <line x1={a[0]} x2={a[0]} y1={a[1]} y2={a[2] - 5} stroke="#000" strokeWidth="1.6" />
          <polygon points={`${a[0] - 3},${a[2] - 6} ${a[0] + 3},${a[2] - 6} ${a[0]},${a[2]}`} fill="#000" />
        </g>
      ))}
      {RULES.map((r, i) => <line key={i} x1={r[0]} x2={r[1]} y1={r[2]} y2={r[2]} stroke="#000" strokeWidth="1.8" />)}
      <rect x="489.3" y="1011" width="18.5" height="9.5" fill={LIGHTGREY} stroke={GREY} strokeWidth="2" />
      <rect x="489.3" y="1030.3" width="18.5" height="9.5" fill={LIGHTGREEN} stroke={GREEN} strokeWidth="2" />
    </svg>
  );
}

export default function App() {
  document.body.style.margin = '0';
  return (
    <div style={{ position: 'absolute', left: 0, top: 0, width: 737, height: 1050, overflow: 'hidden', background: '#fff', fontFamily: SANS }}>
      <Picture />
      {PANELS.map((p, i) => <ChartCanvas key={i} panel={p} />)}
      <Overlay />
      {NOTES.map((n, i) => (
        <div key={i} style={{
          position: 'absolute', left: n[1], top: n[2], fontSize: n[3], fontWeight: n[0] === 'ns' ? 'normal' : 'bold', lineHeight: 1, whiteSpace: 'nowrap',
          fontFamily: n[5] || SANS, color: '#000',
          transform: `translate(-50%,-50%)${n[4] ? ' rotate(-90deg)' : ''}`,
        }}>{n[0]}</div>
      ))}
      {LEFT_NOTES.map((n, i) => (
        <div key={i} style={{
          position: 'absolute', left: n[1], top: n[2], fontSize: n[3], fontWeight: 'bold', lineHeight: 1, whiteSpace: 'nowrap',
          color: '#000', transform: 'translateY(-50%)',
        }}>{n[0]}</div>
      ))}
    </div>
  );
}
